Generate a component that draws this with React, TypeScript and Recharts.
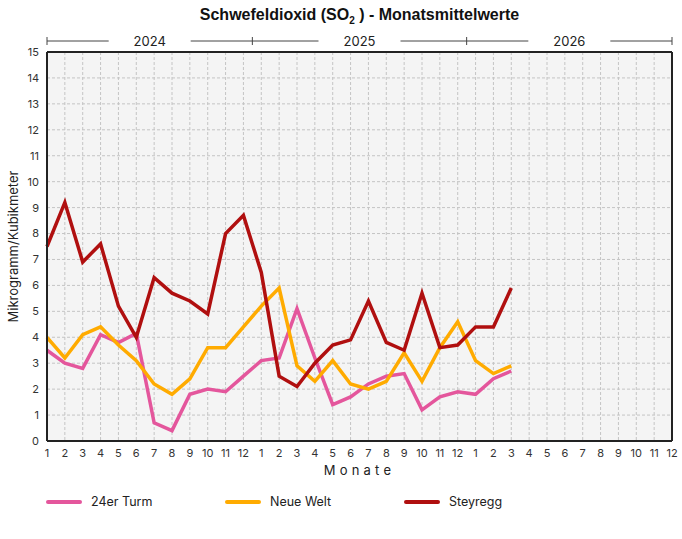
import {
  LineChart,
  Line,
  XAxis,
  YAxis,
  CartesianGrid,
  Legend,
  Label,
} from "recharts";

/* ---------- DATA ---------- */
const MONTH_LABELS = [
  "1", "2", "3", "4", "5", "6", "7", "8", "9", "10", "11", "12",
  "1", "2", "3", "4", "5", "6", "7", "8", "9", "10", "11", "12",
  "1", "2", "3", "4", "5", "6", "7", "8", "9", "10", "11", "12",
];

const TURM_24 = [
  3.5, 3.0, 2.8, 4.1, 3.8, 4.15, 0.7, 0.4, 1.8, 2.0, 1.9, 2.5,
  3.1, 3.2, 5.1, 3.2, 1.4, 1.7, 2.2, 2.5, 2.6, 1.2, 1.7, 1.9,
  1.8, 2.4, 2.7,
];

const NEUE_WELT = [
  4.0, 3.2, 4.1, 4.4, 3.7, 3.1, 2.2, 1.8, 2.4, 3.6, 3.6, 4.4,
  5.2, 5.9, 2.9, 2.3, 3.1, 2.2, 2.0, 2.3, 3.4, 2.3, 3.6, 4.6,
  3.1, 2.6, 2.9,
];

const STEYREGG = [
  7.5, 9.2, 6.9, 7.6, 5.2, 4.0, 6.3, 5.7, 5.4, 4.9, 8.0, 8.7,
  6.5, 2.5, 2.1, 3.0, 3.7, 3.9, 5.4, 3.8, 3.5, 5.7, 3.6, 3.7,
  4.4, 4.4, 5.9,
];

const YEARS = ["2024", "2025", "2026"];
const YEAR_BOUNDS = [0, 11.5, 23.5, 35];
const YEAR_CENTERS = [5.75, 17.5, 29.25];

const Y_TICKS = [0, 1, 2, 3, 4, 5, 6, 7, 8, 9, 10, 11, 12, 13, 14, 15];

/* ---------- COLORS ---------- */
const COLORS = {
  turm: "#e4569c",
  neueWelt: "#ffab00",
  steyregg: "#b00f0f",
};

const SERIES = [
  { key: "turm", name: "24er Turm", color: COLORS.turm },
  { key: "neueWelt", name: "Neue Welt", color: COLORS.neueWelt },
  { key: "steyregg", name: "Steyregg", color: COLORS.steyregg },
];

const FONT = "Inter, 'Liberation Sans', Arial, sans-serif";
const TITLE_FONT = "'Liberation Sans', Arial, sans-serif";

const data = MONTH_LABELS.map((m, i) => ({
  idx: i,
  month: m,
  turm: TURM_24[i] ?? null,
  neueWelt: NEUE_WELT[i] ?? null,
  steyregg: STEYREGG[i] ?? null,
}));

/* ---------- YEAR AXIS TICK ---------- */
function YearTick(props: any) {
  const { x, y, payload } = props;
  const i = YEAR_CENTERS.indexOf(payload.value);
  if (i >= 0) {
    return (
      <g>
        <rect x={x - 41} y={y - 6} width={82} height={12} fill="#fff" />
        <text
          x={x}
          y={y}
          dy="0.36em"
          textAnchor="middle"
          fontSize={13}
          fill="#222"
          fontFamily={FONT}
        >
          {YEARS[i]}
        </text>
      </g>
    );
  }
  return <line x1={x} x2={x} y1={y - 4} y2={y + 4} stroke="#444" />;
}

/* ---------- LEGEND ---------- */
function SeriesLegend() {
  return (
    <div style={{ display: "flex", fontFamily: FONT, fontSize: 12.5, color: "#222" }}>
      {SERIES.map((s) => (
        <div key={s.key} style={{ width: 179, display: "flex", alignItems: "center" }}>
          <span
            style={{
              display: "inline-block",
              width: 36,
              height: 4,
              borderRadius: 2,
              background: s.color,
              marginRight: 9,
            }}
          />
          {s.name}
        </div>
      ))}
    </div>
  );
}

/* ---------- COMPONENT ---------- */
export default function App() {
  return (
    <div style={{ position: "absolute", left: 0, top: 0, width: 682, height: 539, background: "#fff" }}>
      <div
        style={{
          position: "absolute",
          left: 47,
          width: 625,
          top: 6,
          textAlign: "center",
          fontFamily: TITLE_FONT,
          fontWeight: 700,
          fontSize: 16,
          color: "#111",
          zIndex: 2,
        }}
      >
        Schwefeldioxid (SO<sub style={{ fontSize: 10 }}>2</sub> ) - Monatsmittelwerte
      </div>
      <LineChart
        width={682}
        height={539}
        data={data}
        margin={{ top: 19, right: 0, bottom: 63, left: 0 }}
        style={{ fontFamily: FONT }}
      >
        <CartesianGrid
          stroke="#c4c4c4"
          strokeDasharray="3 2"
          fill="#f4f4f4"
          xAxisId="main"
        />

        {/* spacer axis that draws the top border */}
        <XAxis
          xAxisId="border"
          orientation="top"
          dataKey="idx"
          type="number"
          domain={[0, 35]}
          height={11}
          tick={false}
          tickLine={false}
          axisLine={{ stroke: "#222", strokeWidth: 2 }}
        />

        {/* year axis */}
        <XAxis
          xAxisId="year"
          orientation="top"
          dataKey="idx"
          type="number"
          domain={[0, 35]}
          ticks={[...YEAR_BOUNDS, ...YEAR_CENTERS].sort((a, b) => a - b)}
          interval={0}
          height={22}
          tickSize={0}
          tickMargin={0}
          tickLine={false}
          tick={<YearTick />}
          axisLine={{ stroke: "#444" }}
        />

        <XAxis
          xAxisId="main"
          dataKey="idx"
          type="number"
          domain={[0, 35]}
          ticks={data.map((d) => d.idx)}
          interval={0}
          tickFormatter={(v) => MONTH_LABELS[v]}
          tickLine={false}
          tick={{ fill: "#333", fontSize: 11 }}
          axisLine={{ stroke: "#222", strokeWidth: 2 }}
          height={20}
        >
          <Label
            value="Monate"
            position="insideBottom"
            offset={-14}
            style={{ fill: "#222", fontSize: 13, letterSpacing: 4.2 }}
          />
        </XAxis>

        <YAxis
          domain={[0, 15]}
          ticks={Y_TICKS}
          interval={0}
          width={47}
          tickLine={false}
          tick={{ fill: "#333", fontSize: 11 }}
          axisLine={{ stroke: "#222", strokeWidth: 2 }}
        >
          <Label
            value="Mikrogramm/Kubikmeter"
            angle={-90}
            position="insideLeft"
            offset={13}
            style={{ textAnchor: "middle", fill: "#222", fontSize: 13 }}
          />
        </YAxis>

        {/* right border */}
        <YAxis
          yAxisId="right"
          orientation="right"
          domain={[0, 15]}
          width={10}
          tick={false}
          tickLine={false}
          axisLine={{ stroke: "#222", strokeWidth: 2 }}
        />

        <Legend
          content={<SeriesLegend />}
          wrapperStyle={{ position: "absolute", left: 46, top: 494, width: 600 }}
        />

        {SERIES.map((s) => (
          <Line
            key={s.key}
            xAxisId="main"
            type="linear"
            dataKey={s.key}
            name={s.name}
            stroke={s.color}
            strokeWidth={3.5}
            strokeLinejoin="miter"
            dot={false}
            connectNulls={false}
            isAnimationActive={false}
          />
        ))}
      </LineChart>
    </div>
  );
}
